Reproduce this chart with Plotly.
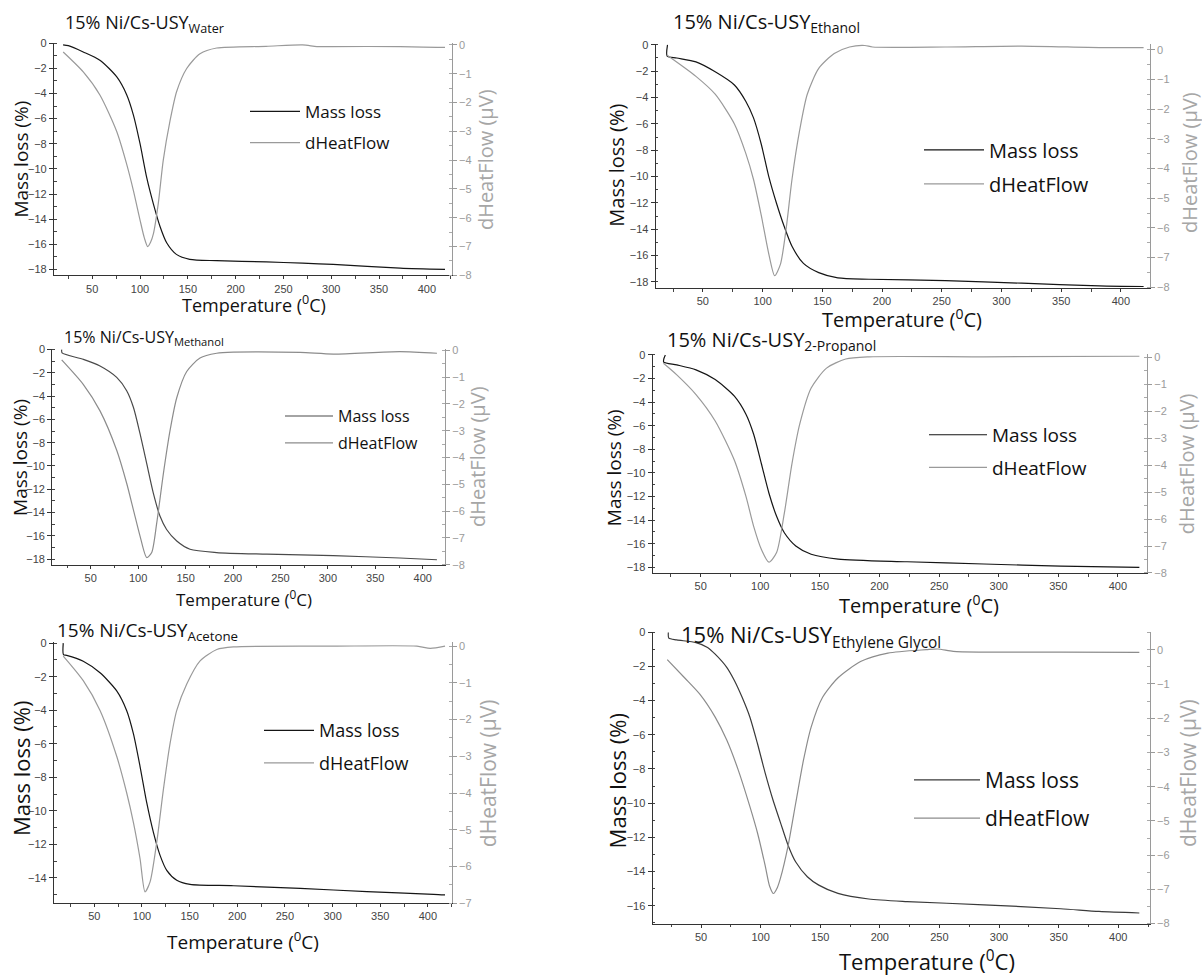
import plotly.graph_objects as go

W, H = 1202, 979

# ---------------- data ----------------
solvents = ["Water", "Ethanol", "Methanol", "2-Propanol", "Acetone", "Ethylene Glycol"]

water_T_mass = [19.5, 25, 40.6, 58, 75.5, 86, 93, 100, 107, 114, 121, 128, 138, 152, 180, 232, 270, 302, 372, 419]
water_mass = [-0.13, -0.2, -0.7, -1.36, -2.67, -4.1, -5.7, -8.0, -10.7, -12.8, -14.6, -15.9, -16.8, -17.2, -17.3, -17.4, -17.5, -17.6, -17.9, -18.0]
water_T_heat = [19.6, 40.6, 58, 75.5, 86, 93, 100, 104.5, 108, 111, 114, 119.1, 124.3, 131.3, 138.3, 148.8, 162.7, 180.2, 232, 270, 285, 300, 372, 419]
water_heat = [-0.25, -0.94, -1.74, -3.0, -4.14, -5.05, -6.08, -6.7, -7.0, -6.85, -6.55, -5.5, -4.0, -2.65, -1.62, -0.82, -0.31, -0.11, -0.05, 0.0, -0.06, -0.06, -0.06, -0.09]

ethanol_T_mass = [20.4, 20.1, 28.1, 44.2, 60.3, 76.4, 86, 92.4, 98.9, 105.3, 111.7, 118.1, 124.6, 134.2, 147, 163, 189, 253, 317, 382, 419]
ethanol_mass = [0.0, -0.85, -1.0, -1.3, -2.05, -3.05, -4.3, -5.55, -7.55, -10.05, -12.05, -13.8, -15.3, -16.6, -17.3, -17.7, -17.8, -17.9, -18.1, -18.3, -18.35]
ethanol_T_heat = [20.1, 44.2, 60.3, 76.4, 86, 92.4, 98.9, 105.3, 110.1, 114.9, 119.8, 124.6, 131, 137.4, 147, 160, 172.8, 185.6, 192, 253, 317, 382, 419]
ethanol_heat = [-0.19, -0.9, -1.5, -2.5, -3.5, -4.37, -5.58, -6.9, -7.61, -7.23, -6.0, -4.37, -2.72, -1.5, -0.63, -0.13, 0.09, 0.14, 0.09, 0.09, 0.12, 0.07, 0.07]

methanol_T_mass = [19.4, 19.8, 42.3, 59.8, 77.4, 87.9, 95, 102, 109, 116, 123, 130, 140.7, 154.7, 182.8, 235.5, 305.8, 376, 415]
methanol_mass = [0.0, -0.3, -0.85, -1.42, -2.4, -3.54, -4.96, -7.23, -9.78, -12.33, -14.3, -15.45, -16.44, -17.15, -17.43, -17.57, -17.7, -17.9, -18.05]
methanol_T_heat = [19.4, 42.3, 59.8, 77.4, 87.9, 95, 102, 109, 114.3, 119.6, 126.6, 133.6, 140.7, 151.2, 165.2, 182.8, 200.4, 270.7, 305.8, 376, 415]
methanol_heat = [-0.36, -1.28, -2.26, -3.73, -4.96, -5.95, -6.93, -7.73, -7.54, -6.44, -4.6, -3.0, -1.77, -0.79, -0.29, -0.11, -0.07, -0.08, -0.14, -0.05, -0.11]

propanol_T_mass = [20.4, 19.2, 19.0, 30, 46.1, 62.2, 78.3, 88, 94.4, 100.9, 107.3, 113.7, 120.2, 129.8, 142.7, 165.3, 223.2, 287.6, 352, 418]
propanol_mass = [0.0, -0.3, -0.6, -0.84, -1.26, -2.09, -3.49, -5.02, -6.7, -9.2, -11.72, -13.68, -15.07, -16.19, -16.89, -17.3, -17.53, -17.72, -17.9, -18.0]
propanol_T_heat = [18.8, 30, 46.1, 62.2, 78.3, 88, 94.4, 100.9, 107.3, 113.7, 120.2, 126.6, 133.1, 142.7, 155.6, 171.7, 191, 287.6, 418]
propanol_heat = [-0.22, -0.65, -1.38, -2.36, -3.82, -5.16, -6.26, -7.12, -7.6, -7.24, -5.78, -3.94, -2.48, -1.14, -0.4, -0.06, 0.02, 0.02, 0.04]

acetone_T_mass = [17.4, 17.6, 21, 38.4, 56, 73.5, 84, 91, 98, 105, 112, 119, 126, 136.5, 150.5, 196, 266, 336, 406, 418]
acetone_mass = [0.0, -0.69, -0.73, -1.08, -1.77, -2.85, -4.03, -5.4, -7.36, -9.52, -11.29, -12.66, -13.55, -14.14, -14.39, -14.47, -14.63, -14.82, -14.98, -15.02]
acetone_T_heat = [17.4, 38.4, 56, 73.5, 84, 91, 98, 103.2, 108.5, 115.5, 122.5, 129.5, 136.5, 147, 161, 178.5, 196, 301, 388.5, 402.5, 418]
acetone_heat = [-0.27, -0.94, -1.75, -3.0, -4.0, -4.8, -5.79, -6.69, -6.42, -5.34, -3.9, -2.65, -1.75, -1.03, -0.4, -0.09, -0.02, 0.0, 0.0, -0.06, 0.0]

glycol_T_mass = [22.6, 23, 29.7, 45.8, 55.5, 61.9, 71.6, 78, 84.4, 90.9, 97.3, 103.8, 110.2, 116.6, 123.1, 129.5, 139.2, 148.8, 164.9, 190.7, 222.9, 287.3, 351.7, 383.9, 417.7]
glycol_mass = [-0.03, -0.36, -0.46, -0.62, -0.9, -1.29, -2.06, -2.83, -3.8, -4.95, -6.5, -8.23, -9.77, -11.12, -12.47, -13.44, -14.3, -14.79, -15.27, -15.6, -15.75, -15.94, -16.17, -16.33, -16.42]
glycol_T_heat = [21.7, 36.2, 49, 61.9, 71.6, 81.2, 90.9, 97.3, 103.8, 107.5, 110.8, 114, 116.6, 123.1, 129.5, 136, 142.4, 152, 165, 184.3, 206.8, 239, 248.7, 261.6, 287.3, 351.7, 417.7]
glycol_heat = [-0.29, -0.82, -1.3, -1.97, -2.64, -3.51, -4.57, -5.34, -6.3, -6.9, -7.12, -6.95, -6.68, -5.72, -4.47, -3.22, -2.26, -1.39, -0.82, -0.34, -0.1, 0.0, 0.02, -0.05, -0.07, -0.07, -0.08]

x_tick_values = [50, 100, 150, 200, 250, 300, 350, 400]

# ---------------- panel layout (pixels) ----------------
panels = [
    dict(T_m=water_T_mass, m=water_mass, T_h=water_T_heat, h=water_heat,
         box=(54, 451.7, 37, 272.7), xr=[10, 426], yl=[-18.47, 0.05], yr=[-8, 0.08],
         mc="#151515", hc="#9a9a9a", title_xy=(63, 2), tfs=18,
         leg=(245, 89), lfs=17, lgap=6, iw=50,
         xt=(254, 302, 18), ylt=(21, 155.5, 19), yrt=(485, 155, 20)),
    dict(T_m=ethanol_T_mass, m=ethanol_mass, T_h=ethanol_T_heat, h=ethanol_heat,
         box=(655.7, 1149.7, 38.5, 285.7), xr=[10.5, 424.1], yl=[-18.48, 0.06], yr=[-8.03, 0.19],
         mc="#151515", hc="#9a9a9a", title_xy=(671, 0), tfs=20,
         leg=(919, 126), lfs=20, lgap=5, iw=60,
         xt=(902, 316, 20), ylt=(617, 161.7, 20), yrt=(1189, 159, 20)),
    dict(T_m=methanol_T_mass, m=methanol_mass, T_h=methanol_T_heat, h=methanol_heat,
         box=(52.3, 445, 347.5, 565.7), xr=[9.5, 423.5], yl=[-18.48, 0.02], yr=[-8, 0.04],
         mc="#4a4a4a", hc="#8c8c8c", title_xy=(62, 322), tfs=16,
         leg=(280, 398), lfs=16, lgap=3, iw=48,
         xt=(244, 600, 17), ylt=(20, 457.5, 19), yrt=(477, 456.7, 20)),
    dict(T_m=propanol_T_mass, m=propanol_mass, T_h=propanol_T_heat, h=propanol_heat,
         box=(652.6, 1147, 352.7, 574), xr=[9.7, 424.4], yl=[-18.48, 0.05], yr=[-8, 0.11],
         mc="#151515", hc="#9a9a9a", title_xy=(665, 322), tfs=20,
         leg=(924, 415), lfs=19, lgap=5, iw=58,
         xt=(918.6, 606, 20), ylt=(613.4, 467.5, 19), yrt=(1186, 464, 20)),
    dict(T_m=acetone_T_mass, m=acetone_mass, T_h=acetone_T_heat, h=acetone_heat,
         box=(54, 451.7, 644, 908.3), xr=[7.7, 425], yl=[-15.51, 0.06], yr=[-7, 0.11],
         mc="#151515", hc="#9a9a9a", title_xy=(55, 617), tfs=19,
         leg=(259, 715), lfs=18, lgap=6, iw=50,
         xt=(243, 946.7, 19), ylt=(21.7, 771.7, 22), yrt=(488, 776.7, 21)),
    dict(T_m=glycol_T_mass, m=glycol_mass, T_h=glycol_T_heat, h=glycol_heat,
         box=(652.6, 1149.7, 633.3, 929), xr=[9.4, 426.4], yl=[-17.04, 0.03], yr=[-8, 0.53],
         mc="#3a3a3a", hc="#8c8c8c", title_xy=(678.7, 619), tfs=22,
         leg=(909, 763), lfs=21, lgap=8, iw=66,
         xt=(927, 966.7, 22), ylt=(617, 785, 22), yrt=(1188, 776.5, 21)),
]

fig = go.Figure()
layout = dict(
    width=W, height=H, margin=dict(l=0, r=0, t=0, b=0),
    paper_bgcolor="white", plot_bgcolor="white",
    font=dict(family="Open Sans, sans-serif", color="#111"),
    showlegend=True,
)
annotations = []
tickfont_dark = dict(family="Liberation Sans, Arial, sans-serif", size=11, color="#444")
tickfont_grey = dict(family="Liberation Sans, Arial, sans-serif", size=11, color="#9a9a9a")

for i, p in enumerate(panels):
    n = i + 1
    xname = "xaxis" if n == 1 else f"xaxis{n}"
    xref = "x" if n == 1 else f"x{n}"
    yl_n, yr_n = 2 * n - 1, 2 * n
    ylname = "yaxis" if yl_n == 1 else f"yaxis{yl_n}"
    ylref = "y" if yl_n == 1 else f"y{yl_n}"
    yrname, yrref = f"yaxis{yr_n}", f"y{yr_n}"
    legname = "legend" if n == 1 else f"legend{n}"

    x0, x1, y0, y1 = p["box"]
    xdom = [x0 / W, x1 / W]
    ydom = [1 - y1 / H, 1 - y0 / H]

    layout[xname] = dict(
        domain=xdom, anchor=ylref, range=p["xr"], tickvals=x_tick_values,
        ticks="outside", ticklen=3, tickcolor="#333", tickwidth=1,
        showline=True, linecolor="#333", linewidth=1.2, showgrid=False, zeroline=False,
        tickfont=tickfont_dark,
        minor=dict(dtick=25, tick0=0, ticks="outside", ticklen=2.5, tickcolor="#444", showgrid=False),
    )
    layout[ylname] = dict(
        domain=ydom, anchor=xref, range=p["yl"], dtick=2, tick0=0,
        ticks="outside", ticklen=4, tickcolor="#333", tickwidth=1,
        showline=True, linecolor="#333", linewidth=1.2, showgrid=False, zeroline=False,
        tickfont=tickfont_dark,
        minor=dict(dtick=1, tick0=0, ticks="inside", ticklen=2.5, tickcolor="#444", showgrid=False),
    )
    layout[yrname] = dict(
        overlaying=ylref, anchor=xref, side="right", range=p["yr"], dtick=1, tick0=0,
        ticks="outside", ticklen=4, tickcolor="#9a9a9a", tickwidth=1,
        showline=True, linecolor="#9a9a9a", linewidth=1.2, showgrid=False, zeroline=False,
        tickfont=tickfont_grey,
        minor=dict(dtick=0.5, tick0=0, ticks="inside", ticklen=2.5, tickcolor="#aaa", showgrid=False),
    )
    layout[legname] = dict(
        x=p["leg"][0] / W, y=1 - p["leg"][1] / H, xanchor="left", yanchor="top",
        bgcolor="rgba(0,0,0,0)", borderwidth=0, tracegroupgap=p["lgap"],
        font=dict(family="Open Sans, sans-serif", size=p["lfs"], color="#111"),
        itemwidth=p["iw"],
    )

    fig.add_trace(go.Scatter(
        x=p["T_m"], y=p["m"], mode="lines", name="Mass loss",
        line=dict(color=p["mc"], width=1.2, shape="spline", smoothing=0.7),
        xaxis=xref, yaxis=ylref, legend=legname, legendgroup=f"m{n}",
    ))
    fig.add_trace(go.Scatter(
        x=p["T_h"], y=p["h"], mode="lines", name="dHeatFlow",
        line=dict(color=p["hc"], width=1.2, shape="spline", smoothing=0.7),
        xaxis=xref, yaxis=yrref, legend=legname, legendgroup=f"h{n}",
    ))

    # panel title
    tx, ty = p["title_xy"]
    annotations.append(dict(
        text=f"15% Ni/Cs-USY<sub>{solvents[i]}</sub>", xref="paper", yref="paper",
        x=tx / W, y=1 - ty / H, xanchor="left", yanchor="top", showarrow=False,
        font=dict(family="Open Sans, sans-serif", size=p["tfs"], color="#111"),
    ))
    # axis titles
    ax, ay, fs = p["xt"]
    annotations.append(dict(
        text="Temperature (<sup>0</sup>C)", xref="paper", yref="paper",
        x=ax / W, y=1 - ay / H, xanchor="center", yanchor="middle", showarrow=False,
        font=dict(family="Open Sans, sans-serif", size=fs, color="#111"),
    ))
    ax, ay, fs = p["ylt"]
    annotations.append(dict(
        text="Mass loss (%)", xref="paper", yref="paper", textangle=-90,
        x=ax / W, y=1 - ay / H, xanchor="center", yanchor="middle", showarrow=False,
        font=dict(family="Open Sans, sans-serif", size=fs, color="#111"),
    ))
    ax, ay, fs = p["yrt"]
    annotations.append(dict(
        text="dHeatFlow (µV)", xref="paper", yref="paper", textangle=-90,
        x=ax / W, y=1 - ay / H, xanchor="center", yanchor="middle", showarrow=False,
        font=dict(family="Open Sans, sans-serif", size=fs, color="#a6a6a6"),
    ))

layout["annotations"] = annotations
fig.update_layout(**layout)
fig.write_html("out.html")
